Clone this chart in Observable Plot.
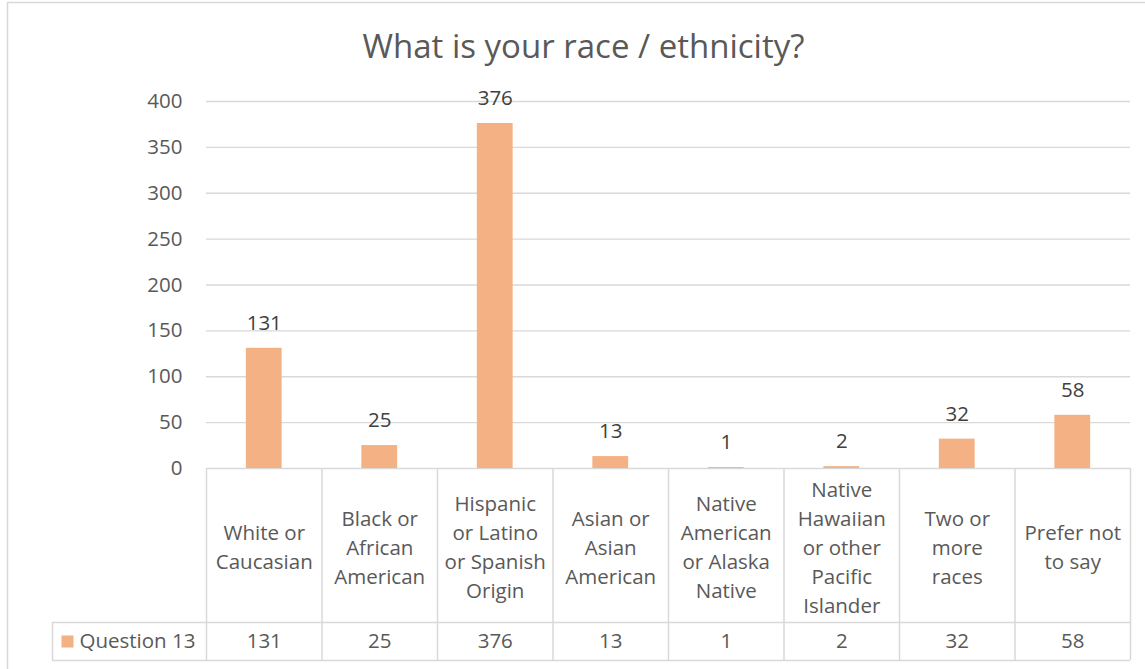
<!DOCTYPE html>
<html>
<head>
<meta charset="utf-8">
<script src="https://cdn.jsdelivr.net/npm/d3@7"></script>
<script src="https://cdn.jsdelivr.net/npm/@observablehq/plot@0.6"></script>
<style>
  html, body { margin: 0; padding: 0; background: #fff; }
  #chart svg { display: block; }
</style>
</head>
<body>
<div id="chart"></div>
<script>
const title = "What is your race / ethnicity?";
const seriesName = "Question 13";
const categories = [
  "White or\nCaucasian",
  "Black or\nAfrican\nAmerican",
  "Hispanic\nor Latino\nor Spanish\nOrigin",
  "Asian or\nAsian\nAmerican",
  "Native\nAmerican\nor Alaska\nNative",
  "Native\nHawaiian\nor other\nPacific\nIslander",
  "Two or\nmore\nraces",
  "Prefer not\nto say"
];
const values = [131, 25, 376, 13, 1, 2, 32, 58];
const yTicks = [0, 50, 100, 150, 200, 250, 300, 350, 400];

const data = categories.map((c, i) => ({category: c, value: values[i]}));

const W = 1145, H = 669;
const mL = 206, mR = 15, mT = 101, mB = 201;
const frameH = H - mT - mB;           // 367
const step = (W - mL - mR) / categories.length;
const headerMid = 77;
const rowTop = 154;
const rowMid = 173;
const tableBottom = 192;
const grid = "#d9d9d9";
const textCol = "#595959";
const FONT = "'Open Sans', sans-serif";
const FS = 20.5;

const chart = Plot.plot({
  width: W,
  height: H,
  marginLeft: mL,
  marginRight: mR,
  marginTop: mT,
  marginBottom: mB,
  style: {fontFamily: FONT, background: "#fff"},
  x: {domain: categories, paddingInner: 0.69, paddingOuter: 0.345, round: false, axis: null},
  y: {domain: [0, 400], axis: null},
  marks: [
    // outer chart border
    Plot.frame({stroke: grid, strokeWidth: 1.5, insetLeft: 7 - mL, insetTop: 2 - mT, insetRight: -40, insetBottom: -(mB + 40)}),
    Plot.gridY(yTicks, {stroke: grid, strokeOpacity: 1, strokeWidth: 1.3}),
    Plot.axisY(yTicks, {label: null, tickSize: 0, tickPadding: 24, fontSize: FS, fill: textCol, textAnchor: "end"}),
    Plot.barY(data, {x: "category", y: "value", fill: "#F4B183"}),
    Plot.text(data, {x: "category", y: "value", text: d => String(d.value), dy: -25, lineAnchor: "middle", fontSize: FS, fill: "#404040"}),
    // data table: vertical lines
    Plot.ruleX(categories, {x: d => d, dx: -step / 2, insetTop: frameH, insetBottom: -tableBottom, stroke: grid, strokeWidth: 1.5}),
    Plot.ruleX([categories[categories.length - 1]], {x: d => d, dx: step / 2, insetTop: frameH, insetBottom: -tableBottom, stroke: grid, strokeWidth: 1.5}),
    Plot.ruleX([categories[0]], {x: d => d, dx: -step / 2 - (mL - 52), insetTop: frameH + rowTop, insetBottom: -tableBottom, stroke: grid, strokeWidth: 1.5}),
    // data table: horizontal lines
    Plot.ruleY([0], {dy: rowTop, insetLeft: 52 - mL, stroke: grid, strokeWidth: 1.5}),
    Plot.ruleY([0], {dy: tableBottom, insetLeft: 52 - mL, stroke: grid, strokeWidth: 1.5}),
    // header row labels
    Plot.text(data, {x: "category", frameAnchor: "bottom", text: "category", dy: headerMid, lineAnchor: "middle", lineHeight: 1.42, fontSize: FS, fill: textCol}),
    // value row
    Plot.text(data, {x: "category", frameAnchor: "bottom", text: d => String(d.value), dy: rowMid, lineAnchor: "middle", fontSize: FS, fill: textCol}),
    // legend key in table
    Plot.dot([seriesName], {frameAnchor: "bottom-left", dx: 67 - mL, dy: rowMid, symbol: "square", r: 6.8, fill: "#F4B183", stroke: null}),
    Plot.text([seriesName], {frameAnchor: "bottom-left", text: d => d, dx: 79 - mL, dy: rowMid, textAnchor: "start", lineAnchor: "middle", fontSize: FS, fill: textCol}),
    // title
    Plot.text([title], {frameAnchor: "top", text: d => d, dx: 583 - (mL + (W - mL - mR) / 2), dy: 47 - mT, lineAnchor: "middle", fontSize: 33, fill: textCol})
  ]
});
document.getElementById("chart").appendChild(chart);
</script>
</body>
</html>
